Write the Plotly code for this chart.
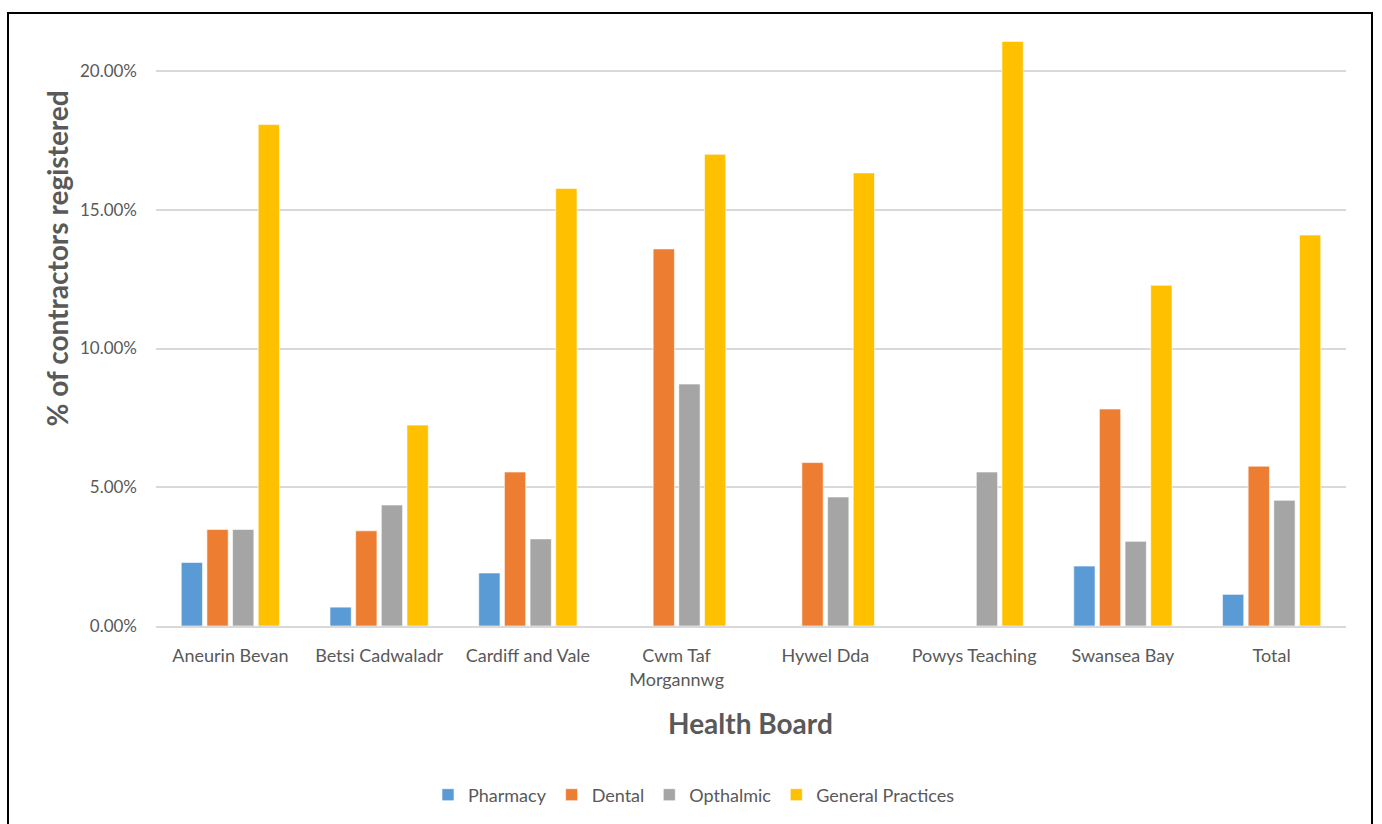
import plotly.graph_objects as go

categories = ["Aneurin Bevan", "Betsi Cadwaladr", "Cardiff and Vale", "Cwm Taf Morgannwg",
              "Hywel Dda", "Powys Teaching", "Swansea Bay", "Total"]
tick_labels = ["Aneurin Bevan", "Betsi Cadwaladr", "Cardiff and Vale", "Cwm Taf<br>Morgannwg",
               "Hywel Dda", "Powys Teaching", "Swansea Bay", "Total"]

pharmacy = [0.0229, 0.0068, 0.0191, 0.0, 0.0, 0.0, 0.0216, 0.0114]
dental = [0.0348, 0.0343, 0.0555, 0.1359, 0.0589, 0.0, 0.0782, 0.0576]
opthalmic = [0.0348, 0.0436, 0.0314, 0.0872, 0.0465, 0.0555, 0.0305, 0.0453]
general_practices = [0.1807, 0.0724, 0.1577, 0.1700, 0.1633, 0.2107, 0.1228, 0.1409]

series = [
    ("Pharmacy", pharmacy, "#5B9BD5"),
    ("Dental", dental, "#ED7D31"),
    ("Opthalmic", opthalmic, "#A5A5A5"),
    ("General Practices", general_practices, "#FFC000"),
]

FONT = "Lato, sans-serif"
GREY = "#595959"

fig = go.Figure()
for name, vals, color in series:
    fig.add_trace(go.Bar(
        x=categories, y=vals, name=name,
        marker=dict(color=color, line=dict(color="white", width=0.6)),
        hovertemplate="%{x}<br>" + name + ": %{y:.2%}<extra></extra>",
    ))

W, H = 1382, 824
SL, SR, ST, SB = 156, 1346, 35, 627
L, T, R, B = SL, ST, W - SR, H - SB
pw, ph = W - L - R, H - T - B

def px_x(x):
    return (x - SL) / pw

def px_y(y):
    return (SB - y) / ph

fig.update_layout(
    width=W, height=H,
    margin=dict(l=L, r=R, t=T, b=B, pad=0),
    paper_bgcolor="white", plot_bgcolor="white",
    barmode="group", bargap=0.31, bargroupgap=0.17,
    font=dict(family=FONT, color=GREY, size=16),
    showlegend=True,
    legend=dict(orientation="h", x=px_x(694), xanchor="center", y=px_y(795), yanchor="middle",
                font=dict(size=18, color=GREY, family=FONT), itemwidth=30,
                traceorder="normal", itemclick=False),
    xaxis=dict(
        tickmode="array", tickvals=categories, ticktext=tick_labels,
        showgrid=False, showline=True, linecolor="#D9D9D9", linewidth=1.5,
        ticks="", tickfont=dict(size=18, color=GREY, family=FONT),
        ticklabelstandoff=13,
        title=None,
    ),
    yaxis=dict(
        range=[0, 0.213], tickvals=[0, 0.05, 0.10, 0.15, 0.20], tickformat=".2%",
        showgrid=True, gridcolor="#D9D9D9", gridwidth=1.5,
        zeroline=False, showline=False, ticks="",
        tickfont=dict(size=17, color=GREY, family=FONT),
        ticklabelstandoff=18,
        title=None,
    ),
    annotations=[
        dict(text="<b>Health Board</b>", xref="paper", yref="paper",
             x=px_x(750), y=px_y(724), xanchor="center", yanchor="middle",
             showarrow=False, font=dict(size=28, color=GREY, family=FONT)),
        dict(text="<b>% of contractors registered</b>", xref="paper", yref="paper",
             x=px_x(57), y=px_y(259), xanchor="center", yanchor="middle", textangle=-90,
             showarrow=False, font=dict(size=28, color=GREY, family=FONT)),
    ],
    shapes=[
        dict(type="rect", xref="paper", yref="paper",
             x0=px_x(8), x1=px_x(1372), y0=px_y(840), y1=px_y(13),
             line=dict(color="black", width=2), fillcolor="rgba(0,0,0,0)", layer="above"),
    ],
)

fig.write_html("out.html", config={"displayModeBar": False},
               post_script="document.body.style.margin='0';document.body.style.overflow='hidden';")
